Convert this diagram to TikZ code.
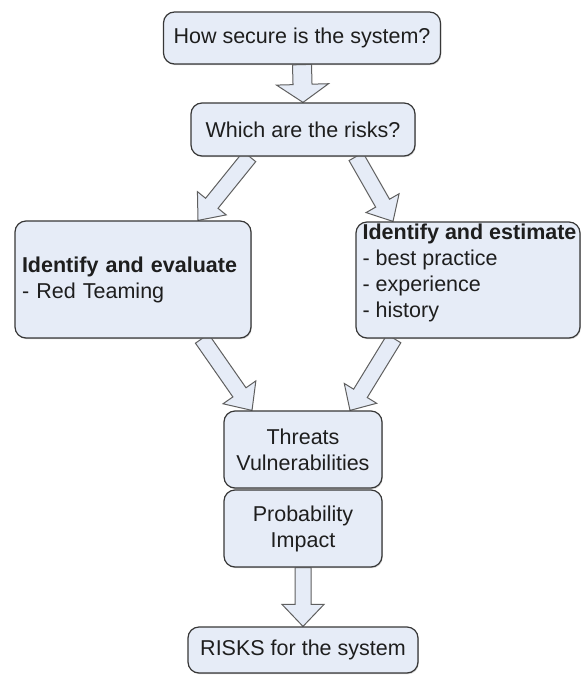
\documentclass[tikz,border=0pt]{standalone}
\usepackage{fontspec}
\setmainfont{Liberation Sans}
\usetikzlibrary{calc,backgrounds,shadows}

\definecolor{boxfill}{RGB}{230,236,247}
\definecolor{boxline}{RGB}{55,55,55}
\definecolor{arrline}{RGB}{95,95,95}
\definecolor{ink}{RGB}{30,30,30}

\tikzset{
  box/.style={draw=boxline, line width=1.2pt, fill=boxfill, rounded corners=11pt,
    text=ink, inner sep=0pt, font=\fontsize{21.5}{26}\selectfont,
    drop shadow={shadow xshift=0.8pt, shadow yshift=-1.2pt, fill=black!30, opacity=0.6}},
  boxtext/.style={text=ink, inner sep=0pt, font=\fontsize{21.5}{26}\selectfont},
  arrowbody/.style={draw=arrline, line width=1pt, fill=boxfill, line join=miter},
}

% block arrow from #1 to #2: half shaft width #3, half head width #4, head length #5
\newcommand\blockarrow[5]{%
  \coordinate (#1-base) at ($(#2)!#5!(#1)$);
  \draw[arrowbody] ($(#1)!#3!90:(#2)$) -- ($(#1-base)!#3!90:(#2)$)
    -- ($(#1-base)!#4!90:(#2)$) -- (#2) -- ($(#1-base)!#4!-90:(#2)$)
    -- ($(#1-base)!#3!-90:(#2)$) -- ($(#1)!#3!-90:(#2)$) -- cycle;}

\begin{document}
\begin{tikzpicture}[x=1pt, y=-1pt]
\useasboundingbox (0,0) rectangle (581,675);

% boxes
\node[box, minimum width=277pt, minimum height=52pt] (q1) at (302,38) {How secure is the system?};
\node[box, minimum width=224pt, minimum height=53pt] (q2) at (303,129.5) {Which are the risks?};
\node[box, minimum width=236pt, minimum height=117pt, text width=222pt, inner xsep=7pt, align=left]
  (eval) at (133,279.5) {\textbf{Identify and evaluate}\\- Red Teaming};
\node[box, minimum width=224pt, minimum height=116pt] (est) at (468,280) {};
\node[boxtext, anchor=north west, align=left] (estt) at ($(est.north west)+(7,2.5)$)
  {\textbf{Identify and estimate}\\- best practice\\- experience\\- history};
\node[box, minimum width=158pt, minimum height=77pt, align=center] (thr) at (303,449.5) {Threats\\Vulnerabilities};
\node[box, minimum width=158pt, minimum height=77pt, align=center] (prob) at (303,528.5) {Probability\\Impact};
\node[box, minimum width=230pt, minimum height=46pt] (risk) at (303,650) {RISKS for the system};

% arrow ends on the box edges
\coordinate (a1) at (q1.south);
\coordinate (b1) at (q2.north);
\coordinate (a2) at ($(q2.south)+(-53.5,0)$);
\coordinate (b2) at ($(eval.north)+(65,0)$);
\coordinate (a3) at ($(q2.south)+(53,0)$);
\coordinate (b3) at ($(est.north)+(-75,0)$);
\coordinate (a4) at ($(eval.south)+(69,0)$);
\coordinate (b4) at ($(thr.north)+(-51,0)$);
\coordinate (a5) at ($(est.south)+(-74,0)$);
\coordinate (b5) at ($(thr.north)+(47,0)$);
\coordinate (a6) at (prob.south);
\coordinate (b6) at (risk.north);

% block arrows sit behind the boxes
\begin{pgfonlayer}{background}
\blockarrow{a1}{b1}{9.5pt}{26pt}{18pt}
\blockarrow{a2}{b2}{8pt}{18.5pt}{22pt}
\blockarrow{a3}{b3}{8pt}{19pt}{21pt}
\blockarrow{a4}{b4}{8pt}{20pt}{22pt}
\blockarrow{a5}{b5}{8pt}{19pt}{20pt}
\blockarrow{a6}{b6}{8pt}{21pt}{22pt}
\end{pgfonlayer}
\end{tikzpicture}
\end{document}
